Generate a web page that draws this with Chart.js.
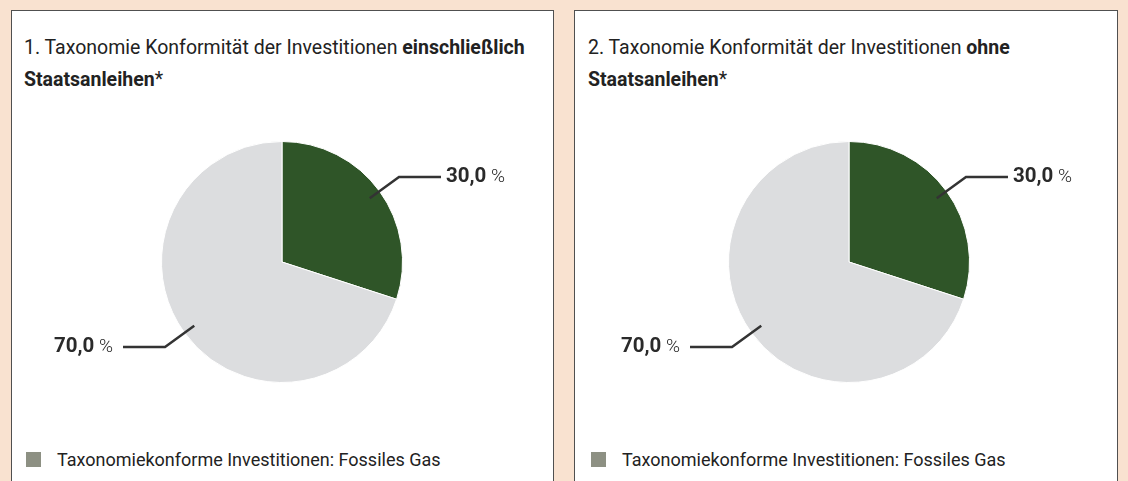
<!DOCTYPE html>
<html>
<head>
<meta charset="utf-8">
<script src="https://cdn.jsdelivr.net/npm/chart.js@4.4.1/dist/chart.umd.min.js"></script>
<style>
  html, body { margin: 0; padding: 0; }
  body {
    width: 1128px; height: 481px; overflow: hidden; position: relative;
    background: #f9e2d0;
    font-family: Roboto, "Open Sans", sans-serif; color: #222;
  }
  .panel {
    position: absolute; top: 10px; height: 490px;
    background: #fff; border: 1.5px solid #505050; box-sizing: border-box;
  }
  .title {
    position: absolute; font-size: 19.5px; line-height: 32px; white-space: nowrap;
  }
  .title b { font-weight: 700; }
  .chart-box { position: absolute; width: 542px; height: 262px; }
  .legend {
    position: absolute; font-size: 18px; display: flex; align-items: center;
  }
  .legend span.sw {
    display: inline-block; width: 15px; height: 15px; background: #8d9083; margin-right: 16px;
  }
</style>
</head>
<body>
<div class="panel" style="left:11px; width:543px;"></div>
<div class="panel" style="left:574px; width:544px;"></div>

<div class="title" style="left:24px; top:32px;">1. Taxonomie Konformität der Investitionen <b>einschließlich</b><br><b>Staatsanleihen</b>*</div>
<div class="title" style="left:588px; top:32px;">2. Taxonomie Konformität der Investitionen <b>ohne</b><br><b>Staatsanleihen</b>*</div>

<div class="chart-box" style="left:11px; top:131px;"><canvas id="pie1"></canvas></div>
<div class="chart-box" style="left:578px; top:131px;"><canvas id="pie2"></canvas></div>

<div class="legend" style="left:26px; top:449px;"><span class="sw"></span><span id="leg1"></span></div>
<div class="legend" style="left:591px; top:449px;"><span class="sw"></span><span id="leg2"></span></div>

<script>
const categories = ["Taxonomiekonform: Fossiles Gas", "Nicht taxonomiekonform"];
const withBonds = [30.0, 70.0];
const withoutBonds = [30.0, 70.0];
const sliceColors = ["#2f5528", "#dcdddf"];
const legendLabel = "Taxonomiekonforme Investitionen: Fossiles Gas";

document.getElementById("leg1").textContent = legendLabel;
document.getElementById("leg2").textContent = legendLabel;

// leader lines + value labels next to each slice
const leaderLabels = {
    id: "leaderLabels",
    afterDatasetsDraw(chart) {
        const ctx = chart.ctx;
        const meta = chart.getDatasetMeta(0);
        const values = chart.data.datasets[0].data;
        meta.data.forEach((arc, i) => {
            const p = arc.getProps(["x", "y", "startAngle", "endAngle", "outerRadius"], true);
            const mid = (p.startAngle + p.endAngle) / 2;
            const cos = Math.cos(mid), sin = Math.sin(mid);
            const x1 = p.x + cos * p.outerRadius * 0.9;
            const y1 = p.y + sin * p.outerRadius * 0.9;
            const x2 = p.x + cos * p.outerRadius * 1.2;
            const y2 = p.y + sin * p.outerRadius * 1.2;
            const right = cos >= 0;
            const x3 = x2 + (right ? 42 : -42);

            ctx.save();
            ctx.strokeStyle = "#333";
            ctx.lineWidth = 2.5;
            ctx.beginPath();
            ctx.moveTo(x1, y1);
            ctx.lineTo(x2, y2);
            ctx.lineTo(x3, y2);
            ctx.stroke();

            const num = values[i].toFixed(1).replace(".", ",");
            ctx.fillStyle = "#2a2a2a";
            ctx.textBaseline = "middle";
            ctx.font = "700 20.5px Roboto, sans-serif";
            const numW = ctx.measureText(num).width;
            ctx.font = "300 19px Roboto, sans-serif";
            const pctW = ctx.measureText(" %").width;
            let tx = right ? x3 + 5 : x3 - 10 - numW - pctW;
            ctx.textAlign = "left";
            ctx.font = "700 20.5px Roboto, sans-serif";
            ctx.fillText(num, tx, y2);
            ctx.font = "300 19px Roboto, sans-serif";
            ctx.fillText(" %", tx + numW, y2);
            ctx.restore();
        });
    }
};

function makePie(id, values) {
    new Chart(document.getElementById(id), {
        type: "pie",
        data: {
            labels: categories,
            datasets: [{
                data: values,
                backgroundColor: sliceColors,
                borderColor: "#ffffff",
                borderWidth: 1
            }]
        },
        options: {
            responsive: true,
            maintainAspectRatio: false,
            animation: false,
            layout: { padding: { top: 10, bottom: 10 } },
            plugins: {
                legend: { display: false },
                tooltip: { enabled: false }
            }
        },
        plugins: [leaderLabels]
    });
}

makePie("pie1", withBonds);
makePie("pie2", withoutBonds);
</script>
</body>
</html>
